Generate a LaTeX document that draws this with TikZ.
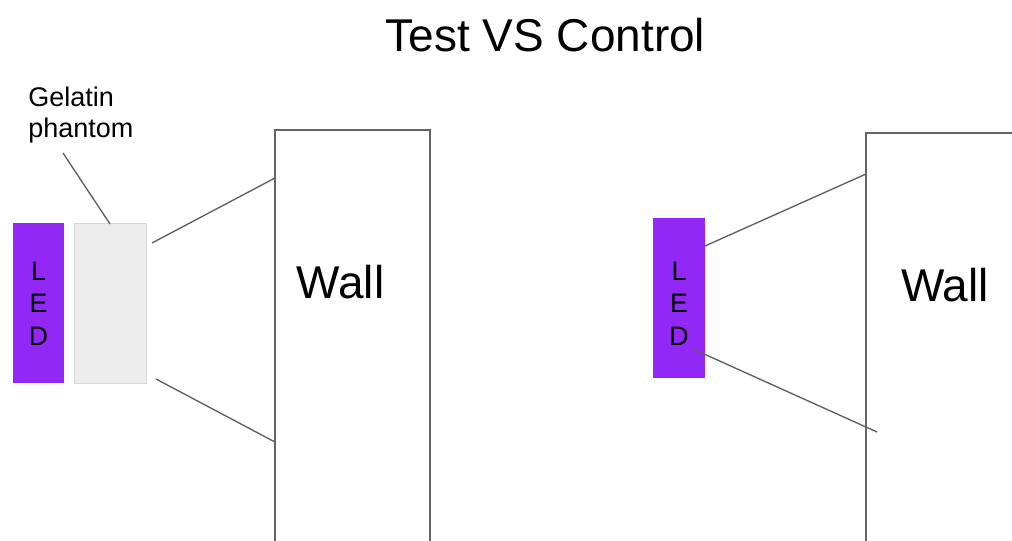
\documentclass[tikz,border=0pt]{standalone}
\usepackage{fontspec}
\setmainfont{Liberation Sans}
\usetikzlibrary{positioning}
\definecolor{ledpurple}{RGB}{145,40,245}
\definecolor{gelgray}{RGB}{236,236,236}
\definecolor{gelline}{RGB}{216,216,216}
\definecolor{wallline}{RGB}{100,100,100}
\definecolor{rayline}{RGB}{95,95,95}
\tikzset{
  led/.style={rectangle, fill=ledpurple, minimum width=1.28cm, minimum height=4cm, inner sep=0pt, outer sep=0pt},
  ledtext/.style={align=center, font=\fontsize{19}{22.8}\selectfont, inner sep=0pt},
  gelbox/.style={rectangle, fill=gelgray, draw=gelline, line width=0.6pt, minimum width=1.8cm, minimum height=4cm, inner sep=0pt, outer sep=0pt},
  wallbox/.style={rectangle, draw=wallline, line width=0.8pt, fill=white, inner sep=0pt, outer sep=0pt},
  bigtext/.style={font=\fontsize{32.7}{39}\selectfont, inner sep=0pt},
  ray/.style={draw=rayline, line width=0.95pt}
}

\begin{document}
\begin{tikzpicture}[x=0.025cm, y=-0.025cm]
    % frame
    \useasboundingbox (0,0) rectangle (1012,540);
    \clip (0,0) rectangle (1012,540);
    \fill[white] (0,0) rectangle (1012,540);
    % title
    \node[bigtext, anchor=base] (title) at (545.5,51) {Test VS Control};
    % test setup
    \node[led] (led-test) at (38.5,303) {};
    \node[ledtext, anchor=base] (led-test-text) at (38.5,345) {L\\E\\D};
    \node[gelbox] (gelatin) at (110,303) {};
    \node[align=left, anchor=base west, inner sep=0pt,
      font=\fontsize{19.2}{22}\selectfont] (gel-label) at (28,137) {Gelatin\\phantom};
    \node[wallbox, minimum width=3.875cm, minimum height=10.75cm] (wall-test) at (352.5,345) {};
    \node[bigtext, anchor=base] (wall-test-text) at (340.5,298) {Wall};
    % control setup
    \node[led] (led-ctrl) at (679,298) {};
    \node[ledtext, anchor=base] (led-ctrl-text) at (679,345) {L\\E\\D};
    \node[wallbox, minimum width=4.35cm, minimum height=10.675cm] (wall-ctrl) at (953,346.5) {};
    \node[bigtext, anchor=base] (wall-ctrl-text) at (945,301) {Wall};
    % main coordinates
    \coordinate (label-end)    at (63,153);
    \coordinate (gel-top)      at (110,224);
    \coordinate (gel-out-up)   at (152,243);
    \coordinate (gel-out-down) at (156,379);
    \coordinate (ctrl-out-up)  at (705,246);
    \coordinate (ctrl-out-dn)  at (693,349);
    \coordinate (ctrl-hit-dn)  at (877,432);
    % draw label pointer
    \draw[ray] (label-end) -- (gel-top);
    % draw light cone, test
    \draw[ray] (gel-out-up)   -- (wall-test.west |- 0,178);
    \draw[ray] (gel-out-down) -- (wall-test.west |- 0,442);
    % draw light cone, control
    \draw[ray] (ctrl-out-up)  -- (wall-ctrl.west |- 0,174);
    \draw[ray] (ctrl-out-dn)  -- (ctrl-hit-dn);
\end{tikzpicture}
\end{document}
